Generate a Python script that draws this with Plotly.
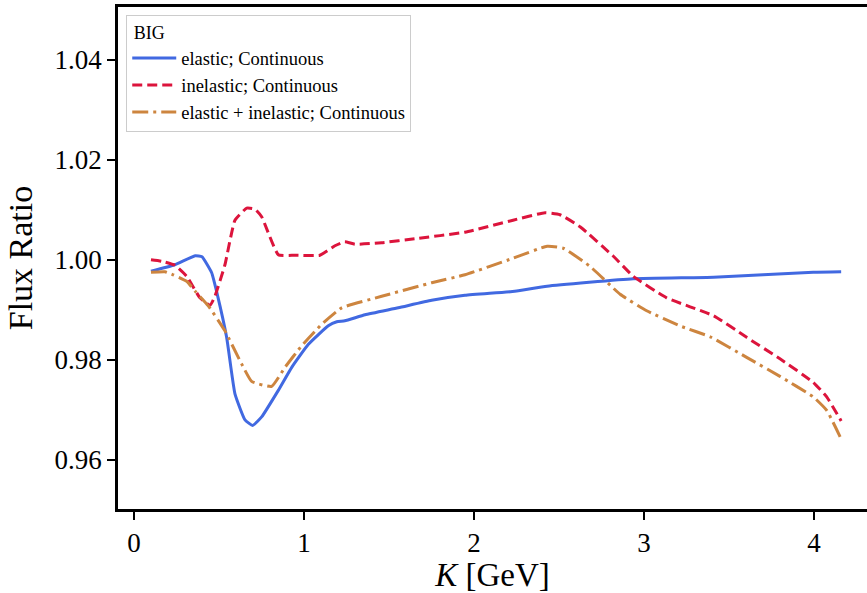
import plotly.graph_objects as go

# Kinetic energy grids (GeV) and flux ratios for each interaction model
k_elastic = [0.10, 0.24, 0.36, 0.40, 0.457, 0.49, 0.545, 0.594, 0.653, 0.698, 0.751,
             0.849, 0.928, 1.026, 1.143, 1.193, 1.24, 1.359, 1.555, 1.751, 1.947,
             2.24, 2.43, 2.937, 3.41, 3.996, 4.16]
ratio_elastic = [0.9977, 0.9990, 1.0008, 1.0006, 0.9974, 0.9931, 0.9845, 0.9732, 0.9680,
                 0.9669, 0.9686, 0.9739, 0.9785, 0.9831, 0.9868, 0.9876, 0.9878, 0.9890,
                 0.9904, 0.9919, 0.9929, 0.9937, 0.9947, 0.9962, 0.9965, 0.9975, 0.9976]

k_inelastic = [0.10, 0.163, 0.24, 0.31, 0.388, 0.447, 0.476, 0.535, 0.594, 0.663, 0.712,
               0.751, 0.849, 0.947, 1.094, 1.182, 1.24, 1.30, 1.457, 1.653, 1.947,
               2.23, 2.418, 2.506, 2.624, 2.82, 2.937, 3.133, 3.41, 3.604, 3.80,
               3.996, 4.075, 4.16]
ratio_inelastic = [1.0000, 0.9997, 0.9989, 0.9967, 0.9924, 0.9909, 0.9927, 0.9990, 1.0079,
                   1.0103, 1.0101, 1.0086, 1.0010, 1.0009, 1.0009, 1.0028, 1.0036, 1.0031,
                   1.0034, 1.0042, 1.0055, 1.0079, 1.0094, 1.0090, 1.0066, 1.0007, 0.9967,
                   0.9924, 0.9888, 0.9845, 0.9802, 0.9755, 0.9726, 0.9678]

k_combined = [0.10, 0.182, 0.23, 0.31, 0.36, 0.437, 0.535, 0.633, 0.692, 0.81, 0.888,
              0.986, 1.104, 1.222, 1.457, 1.751, 1.947, 2.23, 2.43, 2.525, 2.682, 2.86,
              3.016, 3.21, 3.39, 3.604, 3.80, 3.996, 4.075, 4.16]
ratio_combined = [0.9975, 0.9976, 0.9970, 0.9957, 0.9937, 0.9908, 0.9858, 0.9792, 0.9757,
                  0.9747, 0.9785, 0.9828, 0.9871, 0.9904, 0.9927, 0.9954, 0.9970, 1.0003,
                  1.0027, 1.0023, 0.9987, 0.9931, 0.9898, 0.9868, 0.9846, 0.9805, 0.9767,
                  0.9726, 0.9699, 0.9642]

x_ticks = [0, 1, 2, 3, 4]
y_ticks = [0.96, 0.98, 1.00, 1.02, 1.04]
y_tick_text = ["0.96", "0.98", "1.00", "1.02", "1.04"]

SERIF = "Liberation Serif"

fig = go.Figure()
fig.add_trace(go.Scatter(x=k_elastic, y=ratio_elastic, mode="lines",
                         name="elastic; Continuous",
                         line=dict(color="#4169E1", width=3, shape="spline", smoothing=0.4)))
fig.add_trace(go.Scatter(x=k_inelastic, y=ratio_inelastic, mode="lines",
                         name="inelastic; Continuous",
                         line=dict(color="#DC143C", width=3, dash="10px,5px",
                                   shape="spline", smoothing=0.4)))
fig.add_trace(go.Scatter(x=k_combined, y=ratio_combined, mode="lines",
                         name="elastic + inelastic; Continuous",
                         line=dict(color="#CD853F", width=3, dash="16px,5px,3px,5px",
                                   shape="spline", smoothing=0.4)))

fig.update_layout(
    width=867, height=593,
    margin=dict(l=118, r=0, t=7, b=80),
    paper_bgcolor="white", plot_bgcolor="white",
    font=dict(family=SERIF, color="black"),
    showlegend=True,
    legend=dict(
        x=0.011, y=0.984, xanchor="left", yanchor="top",
        bgcolor="rgba(255,255,255,0.85)", bordercolor="#cccccc", borderwidth=1,
        font=dict(family=SERIF, size=18.5, color="black"),
        title=dict(text=" BIG", font=dict(family=SERIF, size=18, color="black")),
        itemwidth=44, tracegroupgap=0,
    ),
    xaxis=dict(
        range=[-0.094, 4.312], tickvals=x_ticks,
        ticks="outside", ticklen=8, tickwidth=2, tickcolor="black",
        tickfont=dict(family=SERIF, size=27, color="black"),
        showline=True, linecolor="black", linewidth=2.5, mirror=True,
        showgrid=False, zeroline=False,
        title=dict(text="<i>K</i> [GeV]", font=dict(family=SERIF, size=33, color="black"),
                   standoff=12),
    ),
    yaxis=dict(
        range=[0.9502, 1.0505], tickvals=y_ticks, ticktext=y_tick_text,
        ticks="outside", ticklen=8, tickwidth=2, tickcolor="black",
        tickfont=dict(family=SERIF, size=27, color="black"),
        showline=True, linecolor="black", linewidth=2.5, mirror=False,
        showgrid=False, zeroline=False,
        title=dict(text="Flux Ratio", font=dict(family=SERIF, size=34, color="black"),
                   standoff=12),
    ),
)

fig.write_html("out.html")
